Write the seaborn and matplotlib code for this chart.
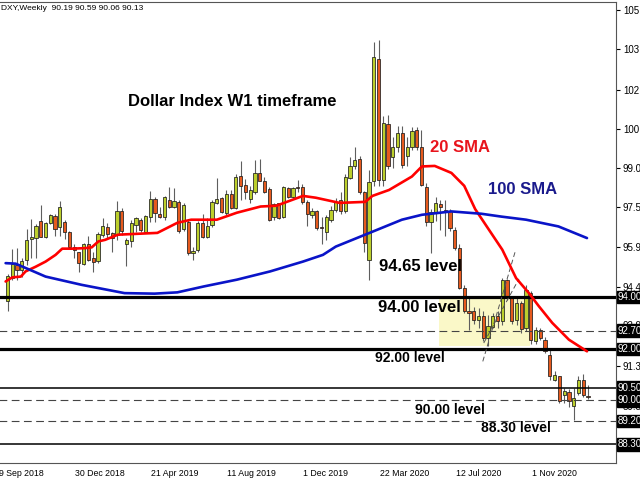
import numpy as np
import pandas as pd
import matplotlib
matplotlib.use("Agg")
import matplotlib.pyplot as plt
import matplotlib.transforms as mtransforms
import seaborn as sns

# ── Weekly DXY candles (first bar = week of 23 Sep 2018) ─────
first_week = "2018-09-23"
opens = [93.83, 94.73, 95.25, 95.03, 95.44, 96.24, 96.28, 96.95, 96.32, 96.86,
         97.15, 96.70, 96.92, 96.53, 95.92, 95.74, 95.29, 96.05, 95.51, 95.38,
         96.38, 96.72, 96.47, 96.40, 97.34, 96.06, 96.15, 96.79, 96.99, 96.53,
         97.08, 97.79, 97.20, 97.11, 97.76, 97.47, 97.69, 96.63, 96.92, 95.72,
         95.83, 96.86, 96.34, 96.77, 97.65, 97.83, 97.24, 97.98, 97.44, 98.69,
         98.34, 97.80, 98.08, 98.79, 98.47, 98.17, 97.09, 97.63, 97.11, 98.23,
         97.86, 98.21, 98.27, 97.69, 97.18, 97.31, 96.69, 96.53, 96.99, 97.37,
         97.75, 97.31, 98.60, 99.05, 99.35, 98.05, 95.44, 98.47, 103.20, 98.53,
         100.68, 99.40, 99.80, 100.34, 99.46, 99.82, 100.46, 99.82, 98.27, 96.90,
         97.25, 97.61, 97.36, 97.31, 96.60, 95.89, 94.35, 93.45, 93.44, 93.12,
         93.25, 92.40, 92.84, 93.28, 93.06, 94.67, 94.02, 93.12, 93.77, 92.81,
         94.15, 92.30, 92.72, 92.35, 91.77, 90.80, 90.93, 90.22, 90.33, 89.78,
         90.29, 90.80, 90.19]
highs = [94.90, 95.85, 95.89, 95.52, 96.64, 97.01, 96.83, 97.57, 96.92, 97.22,
         97.20, 97.73, 96.96, 96.56, 96.05, 95.76, 96.09, 96.37, 95.76, 96.53,
         97.05, 96.86, 96.53, 97.72, 97.45, 96.29, 96.99, 97.11, 97.06, 97.18,
         98.11, 97.85, 97.50, 97.91, 98.27, 98.21, 97.76, 97.63, 96.99, 95.95,
         96.95, 97.21, 97.06, 97.76, 98.62, 97.87, 98.14, 98.14, 98.75, 99.27,
         98.55, 98.30, 99.30, 99.33, 98.66, 98.27, 97.63, 97.65, 98.30, 98.27,
         98.26, 98.53, 98.37, 97.76, 97.45, 97.37, 97.11, 97.18, 97.53, 97.84,
         98.05, 98.76, 99.43, 99.82, 99.45, 98.10, 98.92, 103.85, 103.94, 101.00,
         101.04, 100.20, 100.60, 100.60, 100.20, 100.59, 100.57, 100.46, 98.40, 97.40,
         97.85, 97.76, 97.76, 97.40, 96.70, 96.05, 94.47, 93.96, 93.63, 93.57,
         93.47, 93.30, 93.37, 93.45, 94.73, 94.70, 94.05, 94.00, 93.85, 94.47,
         94.22, 92.84, 92.80, 92.45, 91.96, 91.12, 90.96, 90.48, 90.45, 90.48,
         90.93, 91.04, 90.59]
lows = [93.44, 94.64, 94.67, 94.78, 95.25, 95.51, 95.51, 96.33, 96.28, 96.83,
        96.37, 96.37, 96.24, 95.89, 95.50, 94.95, 95.25, 95.40, 94.95, 95.31,
        96.32, 96.30, 95.76, 96.21, 96.40, 95.21, 95.95, 96.53, 96.53, 96.48,
        96.92, 96.90, 97.05, 96.99, 97.44, 97.44, 96.47, 96.56, 95.63, 95.44,
        95.75, 96.28, 96.29, 96.72, 97.60, 97.25, 97.18, 97.40, 97.40, 97.76,
        97.80, 97.65, 98.00, 98.47, 98.02, 96.94, 96.96, 97.01, 97.05, 97.82,
        97.84, 98.08, 97.60, 96.73, 97.06, 96.60, 96.06, 96.21, 96.90, 97.30,
        97.20, 97.25, 98.55, 98.95, 98.00, 95.76, 94.64, 98.30, 98.30, 98.30,
        98.95, 99.00, 99.60, 99.00, 99.05, 99.70, 99.70, 98.30, 96.75, 95.70,
        96.95, 96.60, 96.35, 96.55, 95.80, 94.30, 93.38, 92.74, 92.96, 92.80,
        92.30, 92.12, 92.79, 92.80, 92.90, 93.90, 92.95, 92.90, 92.60, 92.70,
        92.20, 92.20, 92.35, 91.85, 90.80, 90.75, 89.90, 89.90, 89.75, 89.26,
        90.20, 90.15, 90.06]
closes = [94.82, 95.27, 95.03, 95.40, 96.21, 96.32, 96.75, 96.32, 96.88, 97.18,
          96.63, 97.50, 96.53, 95.95, 95.82, 95.31, 96.05, 95.44, 95.35, 96.43,
          96.75, 96.44, 96.30, 97.34, 96.57, 96.19, 96.86, 97.05, 96.60, 97.15,
          97.79, 97.24, 97.11, 97.88, 97.48, 97.72, 96.56, 97.57, 95.70, 95.79,
          96.88, 96.34, 96.73, 97.67, 97.81, 97.27, 97.98, 97.44, 98.66, 98.30,
          98.08, 98.15, 98.79, 98.50, 98.08, 96.96, 97.60, 97.05, 98.25, 97.86,
          98.21, 98.20, 97.69, 97.22, 97.31, 96.67, 96.65, 97.09, 97.37, 97.69,
          97.33, 98.66, 99.05, 99.30, 98.08, 96.09, 98.43, 103.27, 98.53, 100.74,
          99.05, 99.82, 100.36, 99.11, 99.82, 100.43, 99.82, 98.34, 96.90, 97.30,
          97.62, 97.48, 97.28, 96.67, 95.89, 94.35, 93.44, 93.40, 93.12, 93.28,
          92.41, 92.89, 93.28, 93.06, 94.66, 93.96, 93.06, 93.77, 92.76, 94.28,
          92.35, 92.74, 92.41, 91.90, 90.93, 90.97, 89.97, 90.35, 89.97, 90.10,
          90.80, 90.22, 90.13]

# ── Moving averages (weeks since 9 Sep 2018) ──
sma20_week = [1.6, 3.0, 4.8, 5.8, 7.9, 10.0, 12.1, 13.5, 15.5, 18.3, 19.7, 21.1,
              22.5, 25.2, 33.5, 37.7, 40.6, 46.0, 50.2, 55.2, 58.5, 64.1, 66.8,
              71.8, 77.2, 78.7, 82.2, 87.0, 89.1, 91.8, 95.3, 98.0, 100.3, 103.2,
              106.0, 108.9, 111.6, 113.7, 116.5, 120.0, 123.8]
sma20_value = [94.60, 94.76, 94.79, 94.99, 95.17, 95.37, 95.63, 95.87, 95.87,
               95.89, 95.92, 96.15, 96.21, 96.41, 96.48, 96.87, 96.99, 96.99,
               97.26, 97.50, 97.53, 97.91, 97.84, 97.64, 97.68, 97.91, 98.14,
               98.66, 99.05, 99.07, 98.80, 98.30, 97.40, 96.60, 95.83, 94.73,
               94.15, 93.64, 93.00, 92.35, 91.90]
sma100_week = [1.6, 3.7, 10.0, 17.6, 26.6, 32.9, 37.7, 43.3, 50.2, 57.2, 64.1,
               68.3, 71.0, 78.1, 84.9, 89.1, 95.3, 101.6, 105.8, 111.0, 117.8, 123.8]
sma100_value = [95.31, 95.29, 94.79, 94.47, 94.15, 94.13, 94.18, 94.41, 94.67,
                94.99, 95.37, 95.63, 95.95, 96.48, 96.99, 97.18, 97.31, 97.22,
                97.11, 96.99, 96.73, 96.28]

# ── Price levels and axis labels ─────────────────────────────
solid_levels = [94.00, 92.00, 90.50, 88.30]
solid_widths = [2.3, 2.3, 1.1, 1.1]
dashed_levels = [92.70, 90.00, 89.20]
price_ticks = [105.1, 103.6, 102.0, 100.5, 99.00, 97.50, 95.95, 94.40, 92.90, 91.35, 89.80]
price_tick_labels = ["105.1", "103.6", "102.0", "100.5", "99.00", "97.50",
                     "95.95", "94.40", "92.90", "91.35", "89.80"]
date_ticks = ["2018-09-09", "2018-12-30", "2019-04-21", "2019-08-11",
              "2019-12-01", "2020-03-22", "2020-07-12", "2020-11-01"]
date_tick_labels = ["9 Sep 2018", "30 Dec 2018", "21 Apr 2019", "11 Aug 2019",
                    "1 Dec 2019", "22 Mar 2020", "12 Jul 2020", "1 Nov 2020"]
range_box_weeks = (92.8, 111.8)
range_box_prices = (92.12, 94.00)
channel_a = ([101.9, 108.7], [91.51, 95.75])
channel_b = ([102.1, 109.5], [92.22, 94.70])

# ── Positions in weeks ───────────────────────────────────────
origin = pd.Timestamp("2018-09-09")
dates = pd.date_range(first_week, periods=len(opens), freq="W-SUN")
df = pd.DataFrame({"date": dates, "open": opens, "high": highs,
                   "low": lows, "close": closes})
df["week"] = (df["date"] - origin).dt.days / 7
df["bull"] = df["close"] >= df["open"]
tick_weeks = [(pd.Timestamp(d) - origin).days / 7 for d in date_ticks]

sns.set_style("white")
plt.rcParams["font.family"] = ["Liberation Sans", "DejaVu Sans"]
plt.rcParams["text.color"] = "black"

fig = plt.figure(figsize=(6.4, 4.8), dpi=100)
ax = fig.add_axes([-2 / 640, 17 / 480, 618 / 640, 461 / 480])
ax.set_xlim(1.23, 129.9)
ax.set_ylim(87.58, 105.41)

# yellow consolidation zone
ax.fill_between(range_box_weeks, range_box_prices[0], range_box_prices[1],
                color="#faf8c8", lw=0, zorder=1)

# candles
bull_c, bear_c = "#bccf2c", "#e65a1e"
ax.vlines(df["week"], df["low"], df["high"], color="#5e5e5e", lw=0.8, zorder=3)
body_lo = df[["open", "close"]].min(axis=1)
body_h = (df["close"] - df["open"]).abs().clip(lower=0.04)
ax.bar(df["week"], body_h, bottom=body_lo, width=0.68,
       color=np.where(df["bull"], bull_c, bear_c),
       edgecolor="#1e1e1e", linewidth=0.55, zorder=4)

# horizontal levels
for lvl, w in zip(solid_levels, solid_widths):
    ax.axhline(lvl, color="black", lw=w, zorder=5)
for lvl in dashed_levels:
    ax.axhline(lvl, color="#444444", lw=0.8, ls=(0, (7, 4)), zorder=5)

# channel lines
for xs, ys in (channel_a, channel_b):
    ax.plot(xs, ys, color="#555555", lw=0.7, ls=(0, (5, 3)), zorder=5)

# moving averages
sns.lineplot(x=sma20_week, y=sma20_value, ax=ax, color="#ff0000", lw=1.9,
             sort=False, estimator=None, zorder=6)
sns.lineplot(x=sma100_week, y=sma100_value, ax=ax, color="#0a14c8", lw=1.9,
             sort=False, estimator=None, zorder=6)

# annotations
bold = dict(fontweight="bold", zorder=8, va="center")
ax.text(27.25, 101.58, "Dollar Index W1 timeframe", fontsize=12, color="black", **bold)
ax.text(90.8, 99.77, "20 SMA", fontsize=12, color="#e8141c", **bold)
ax.text(103.0, 98.15, "100 SMA", fontsize=12, color="#1a1a8c", **bold)
ax.text(80.1, 95.17, "94.65 level", fontsize=12, color="black", **bold)
ax.text(79.9, 93.59, "94.00 level", fontsize=12, color="black", **bold)
ax.text(79.3, 91.65, "92.00 level", fontsize=10, color="black", **bold)
ax.text(87.6, 89.64, "90.00 level", fontsize=10, color="black", **bold)
ax.text(101.6, 88.95, "88.30 level", fontsize=10, color="black", **bold)

# axes styling
ax.yaxis.tick_right()
ax.set_yticks(price_ticks)
ax.set_yticklabels(price_tick_labels)
ax.tick_params(axis="y", labelsize=7, length=3, pad=2, colors="black")
ax.set_xticks(tick_weeks)
ax.set_xticklabels([])
ax.tick_params(axis="x", length=3, colors="#444444")
ax.set_xlabel("")
ax.set_ylabel("")
xtrans = mtransforms.blended_transform_factory(ax.transData, ax.transAxes)
for wk, lab in zip(tick_weeks, date_tick_labels):
    ax.text(wk + 0.2, -0.012, lab, transform=xtrans, fontsize=6.3, color="black",
            ha="left", va="top", clip_on=False)
for sp in ax.spines.values():
    sp.set_color("#555555")
    sp.set_linewidth(0.8)
ax.spines["left"].set_visible(False)

# level price tags on the right axis
ytrans = ax.get_yaxis_transform()
for lvl in sorted(solid_levels + dashed_levels, reverse=True):
    ax.text(1.003, lvl, f"{lvl:.2f}", transform=ytrans, fontsize=7, color="white",
            ha="left", va="center", clip_on=False, zorder=9,
            bbox=dict(boxstyle="square,pad=0.12", fc="black", ec="black"))

fig.text(0.002, 1 - 8 / 480, "DXY,Weekly  90.19 90.59 90.06 90.13",
         fontsize=6, color="black", va="center", ha="left")

fig.savefig("out.png", dpi=100)
